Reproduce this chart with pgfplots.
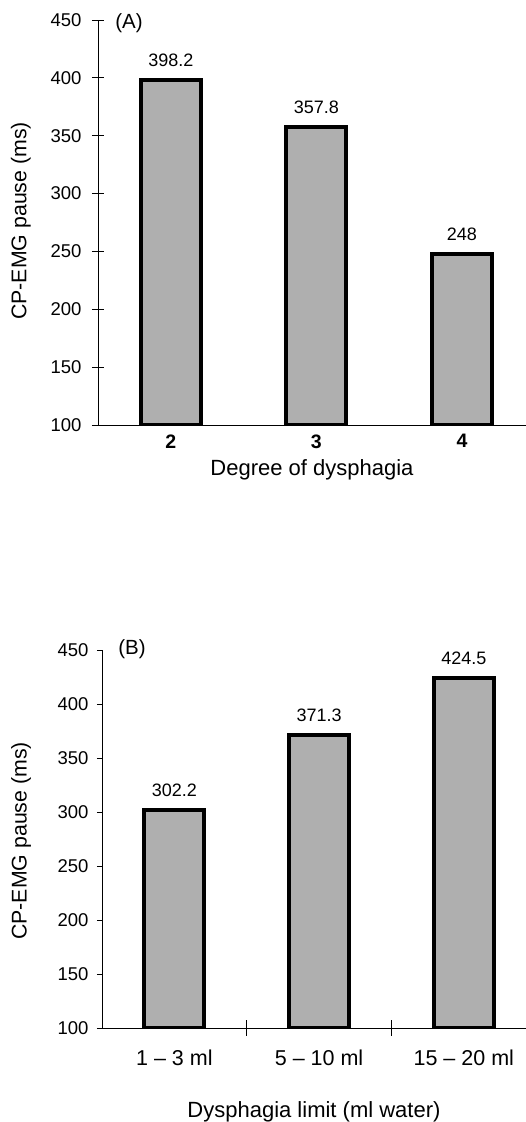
\documentclass[border=0pt]{standalone}
\usepackage{fontspec}
\setmainfont{Liberation Sans}
\usepackage{pgfplots}
\pgfplotsset{compat=1.18}
\definecolor{barfill}{RGB}{175,175,175}
\begin{document}
\begin{tikzpicture}
\pgfplotsset{
  common/.style={
    scale only axis,
    axis lines*=left,
    axis line style={line width=0.8pt, black},
    ymin=100, ymax=450,
    ytick={100,150,...,450},
    xmin=-0.5,
    /pgf/number format/assume math mode=true,
    yticklabel style={font=\fontsize{18.5}{21}\selectfont},
    ytick style={line width=0.8pt, black},
    xtick={0,1,2},
    xtick style={draw=none},
    every axis y label/.style={rotate=90, anchor=center, font=\fontsize{21.3}{24}\selectfont},
    every axis x label/.style={anchor=center, font=\fontsize{22}{25}\selectfont},
    ybar, bar width=60pt,
    nodes near coords,
    point meta=explicit symbolic,
    every node near coord/.append style={font=\fontsize{18}{21}\selectfont, yshift=8pt},
  },
  barstyle/.style={fill=barfill, draw=black, line width=4pt},
}
% ---------- Panel A ----------
\begin{axis}[common, name=A,
  at={(98pt,697pt)}, anchor=south west,
  width=428pt, height=405pt,
  xmax=2.44,
  tick align=center, major tick length=12pt,
  yticklabel style={xshift=-7pt},
  xticklabels={\textbf{2},\textbf{3},\textbf{4}},
  xticklabel style={font=\fontsize{19.5}{22}\selectfont\bfseries},
  ylabel={CP-EMG pause (ms)},
  xlabel={Degree of dysphagia},
  every axis y label/.append style={at={(axis description cs:-0.180,0.504)}},
  every axis x label/.append style={at={(axis description cs:0.5,-0.111)}},
]
\addplot[barstyle] coordinates {(0,398.2) [398.2] (1,357.8) [357.8] (2,248) [248]};
\end{axis}
\node[font=\fontsize{20.5}{23}\selectfont, xshift=31pt, yshift=-3pt] at (A.north west) {(A)};
% ---------- Panel B ----------
\begin{axis}[common, name=B,
  at={(102pt,94pt)}, anchor=south west,
  width=424pt, height=378pt,
  xmax=2.43,
  tick align=outside, major tick length=5pt,
  yticklabel style={xshift=-5pt},
  xticklabels={1 – 3 ml, 5 – 10 ml, 15 – 20 ml},
  xticklabel style={font=\fontsize{21.5}{24}\selectfont, yshift=-13pt},
  extra x ticks={0.5,1.5},
  extra x tick labels={},
  extra x tick style={xtick style={draw=black, line width=0.8pt}, major tick length=15pt, tick align=center},
  ylabel={CP-EMG pause (ms)},
  xlabel={Dysphagia limit (ml water)},
  every axis y label/.append style={at={(axis description cs:-0.191,0.495)}},
  every axis x label/.append style={at={(axis description cs:0.5,-0.222)}},
]
\addplot[barstyle] coordinates {(0,302.2) [302.2] (1,371.3) [371.3] (2,424.5) [424.5]};
\end{axis}
\node[font=\fontsize{20.5}{23}\selectfont, xshift=30pt, yshift=1pt] at (B.north west) {(B)};
\pgfresetboundingbox
\path[use as bounding box] (0pt,0pt) rectangle (526pt,1122pt);
\end{tikzpicture}
\end{document}
